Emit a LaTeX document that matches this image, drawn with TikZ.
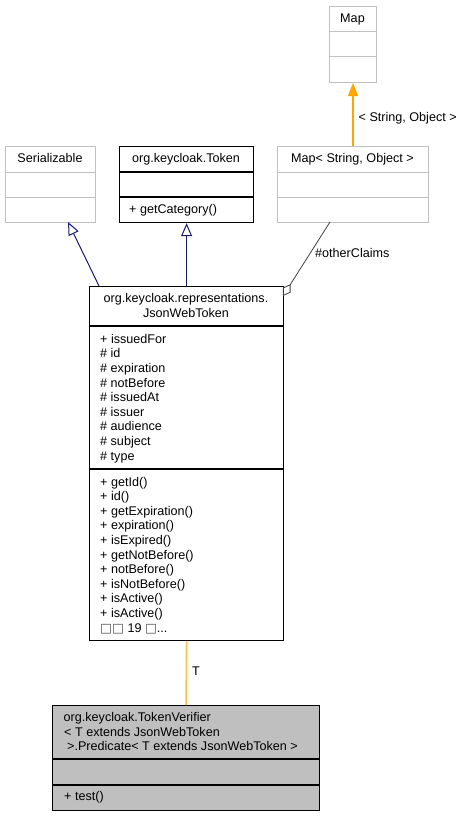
\documentclass[tikz,border=0pt]{standalone}
\usepackage{fontspec}
\setmainfont{Liberation Sans}
\newfontfamily\dejavu{DejaVu Sans}
\usetikzlibrary{arrows.meta}
\definecolor{boxgray}{HTML}{C0C0C0}
\definecolor{fillgray}{HTML}{BFBFBF}
\definecolor{navyline}{HTML}{191970}
\definecolor{aggrline}{HTML}{404040}
\definecolor{tmplline}{HTML}{FFA500}
\definecolor{tmpllight}{HTML}{FFBF4F}
\begin{document}
\begin{tikzpicture}[x=1pt,y=-1pt,font=\fontsize{12.6}{14.6}\selectfont,
  clsbox/.style={rectangle,inner sep=0pt,anchor=north west,line width=1.2pt,draw=black},
  extbox/.style={rectangle,inner sep=0pt,anchor=north west,line width=1pt,draw=boxgray},
  lbl/.style={inner sep=0pt,anchor=base west},
  ttl/.style={inner sep=0pt,anchor=base},
  inherit/.style={draw=navyline,line width=1pt,-{Triangle[open,length=13pt,width=11pt,fill=white]}},
  tmpl/.style={draw=tmplline,line width=1.3pt},
  tmplT/.style={draw=tmpllight,line width=1.6pt},
  aggr/.style={draw=aggrline,line width=0.8pt,{Diamond[open,length=14pt,width=9pt,fill=white]}-}]
\useasboundingbox (0,0) rectangle (467,816);

% Map
\node[extbox,minimum width=47pt,minimum height=76pt] (map) at (329,6) {};
\draw[boxgray,line width=1pt] (map.west |- 0,32) -- (map.east |- 0,32);
\draw[boxgray,line width=1pt] (map.west |- 0,57) -- (map.east |- 0,57);
\node[ttl] (mapt) at (352.5,22.5) {Map};

% Serializable
\node[extbox,minimum width=90pt,minimum height=76pt] (ser) at (5,146) {};
\draw[boxgray,line width=1pt] (ser.west |- 0,172) -- (ser.east |- 0,172);
\draw[boxgray,line width=1pt] (ser.west |- 0,197) -- (ser.east |- 0,197);
\node[ttl] (sert) at (50,162.5) {Serializable};

% org.keycloak.Token
\node[clsbox,minimum width=134pt,minimum height=76pt] (tok) at (119,146) {};
\draw[line width=1.2pt] (tok.west |- 0,172) -- (tok.east |- 0,172);
\draw[line width=1.2pt] (tok.west |- 0,197) -- (tok.east |- 0,197);
\node[ttl] (tokt) at (186,162.5) {org.keycloak.Token};
\node[lbl] (tokm) at (129,213) {+ getCategory()};

% Map< String, Object >
\node[extbox,minimum width=151pt,minimum height=76pt] (mapso) at (277,146) {};
\draw[boxgray,line width=1pt] (mapso.west |- 0,172) -- (mapso.east |- 0,172);
\draw[boxgray,line width=1pt] (mapso.west |- 0,197) -- (mapso.east |- 0,197);
\node[ttl] (mapsot) at (352.5,162.5) {Map< String, Object >};

% JsonWebToken
\node[clsbox,minimum width=194pt,minimum height=354pt] (jwt) at (89,286) {};
\draw[line width=1.2pt] (jwt.west |- 0,326) -- (jwt.east |- 0,326);
\draw[line width=1.2pt] (jwt.west |- 0,469) -- (jwt.east |- 0,469);
\node[ttl] (jwtt1) at (186,302.7) {org.keycloak.representations.};
\node[ttl] (jwtt2) at (186,317.3) {JsonWebToken};
\foreach \t [count=\i from 0] in {+ issuedFor,\# id,\# expiration,\# notBefore,\# issuedAt,\# issuer,\# audience,\# subject,\# type}
  \node[lbl] (jwta\i) at (100,343.3+14.6*\i) {\t};
\foreach \t [count=\i from 0] in {+ getId(),+ id(),+ getExpiration(),+ expiration(),+ isExpired(),+ getNotBefore(),+ notBefore(),+ isNotBefore(),+ isActive(),+ isActive()}
  \node[lbl] (jwtm\i) at (100,486+14.6*\i) {\t};
\node[lbl] (jwtmore) at (100,632) {{\dejavu\color{black!70}□□} 19 {\dejavu\color{black!70}□}...};

% TokenVerifier Predicate
\node[clsbox,fill=fillgray,minimum width=267pt,minimum height=105pt] (tv) at (52,705) {};
\draw[line width=1.2pt] (tv.west |- 0,759) -- (tv.east |- 0,759);
\draw[line width=1.2pt] (tv.west |- 0,785) -- (tv.east |- 0,785);
\node[lbl] (tvt1) at (63.5,721.5) {org.keycloak.TokenVerifier};
\node[lbl] (tvt2) at (64,736) {< T extends JsonWebToken};
\node[lbl] (tvt3) at (67,750.5) {>.Predicate< T extends JsonWebToken >};
\node[lbl] (tvm) at (64,800.5) {+ test()};

% connectors
\coordinate (serin) at (68,222);
\coordinate (jwtser) at (99,286);
\coordinate (jwtagg) at (283,296);
\coordinate (mapsoagg) at (330,222);
\draw[inherit] (jwtser) -- (serin);
\draw[inherit] (jwt.north) -- (tok.south);
\draw[tmpl,-{Triangle[length=13pt,width=10pt]}] (mapso.north) -- (map.south)
  node[lbl,pos=0.45,xshift=5pt,yshift=-4pt] (mapl) {< String, Object >};
\draw[aggr] (jwtagg) -- (mapsoagg);
\node[lbl] (aggl) at (315,257.5) {\#otherClaims};
\draw[tmplT] (jwt.south) -- (tv.north) node[lbl,pos=0.48,xshift=5pt,yshift=-4pt] (tl) {T};
\end{tikzpicture}
\end{document}
